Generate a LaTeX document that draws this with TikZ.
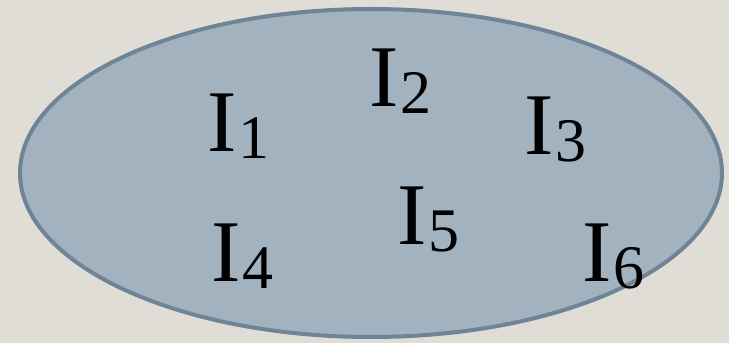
\documentclass[tikz,border=0pt]{standalone}
\usepackage{fontspec}
\setmainfont{Liberation Serif}
\usetikzlibrary{shapes.geometric}
\definecolor{bgc}{HTML}{E0DDD6}
\definecolor{fillc}{HTML}{A2B2BF}
\definecolor{linec}{HTML}{6F8497}
\newcommand{\lbl}[1]{\fontsize{88}{88}\selectfont I\kern2pt\raisebox{-7pt}{\fontsize{62}{62}\selectfont #1}}
\begin{document}
\begin{tikzpicture}[x=1pt,y=1pt,
  lab/.style={anchor=base west,inner sep=0pt,text=black}]
\fill[bgc] (0,0) rectangle (729,343);
\useasboundingbox (0,0) rectangle (729,343);
\node[ellipse, draw=linec, fill=fillc, line width=4pt, minimum width=702pt, minimum height=328pt, inner sep=0pt] (set) at (371,170) {};
\node[lab] (i1) at (207,191) {\lbl{1}};
\node[lab] (i2) at (369,236) {\lbl{2}};
\node[lab] (i3) at (524,188) {\lbl{3}};
\node[lab] (i4) at (211,61) {\lbl{4}};
\node[lab] (i5) at (397,98) {\lbl{5}};
\node[lab] (i6) at (582,61) {\lbl{6}};
\end{tikzpicture}
\end{document}
